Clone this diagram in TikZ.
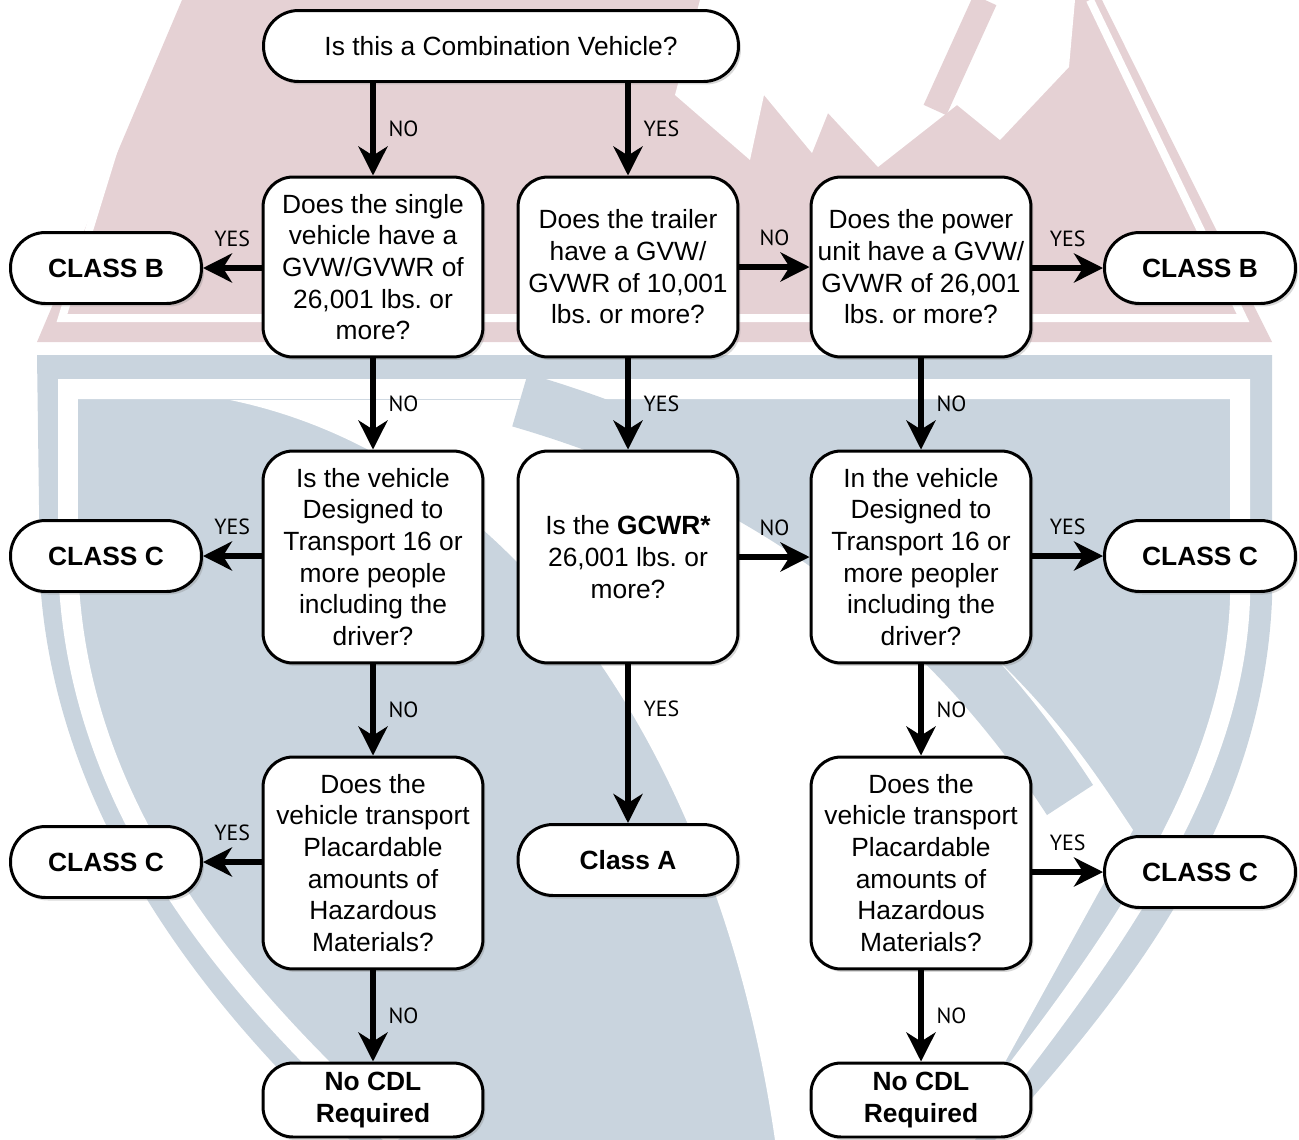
\documentclass[tikz,border=0pt]{standalone}
\usepackage{fontspec}
\setmainfont{Liberation Sans}
\newfontfamily\choicefont{PT Sans}
\usepackage{tikz}
\usetikzlibrary{arrows.meta, positioning, shadows}
\definecolor{mountain}{RGB}{229,209,212}
\definecolor{shield}{RGB}{201,212,222}
\frenchspacing
\tikzset{%
  base/.style = {rectangle, draw = black, line width = 1.7pt, fill = white, align = center, font = \fontsize{15}{18}\selectfont, inner sep = 2pt, drop shadow = {shadow xshift = 0.05cm, shadow yshift = -0.06cm, opacity = 0.3}},
  question/.style = {base, rounded corners = 0.6cm, minimum width = 4.4cm},
  result/.style = {base, rounded corners = 0.7cm, minimum width = 3.82cm, minimum height = 1.42cm, font = \fontsize{15}{18}\selectfont\bfseries},
  arrow/.style = {-{Stealth[length = 0.58cm, width = 0.58cm, inset = 0.18cm]}, line width = 3.2pt},
  choice/.style = {font = \choicefont\fontsize{12.5}{14}\selectfont, inner sep = 1pt}
}

\begin{document}
\begin{tikzpicture}[x = 0.02cm, y = -0.02cm]
  \useasboundingbox (0,0) rectangle (1299,1140);
  % watermark: mountains
  \fill[mountain] (182,0) -- (1102,0) -- (1272,342) -- (37,342) -- cycle;
  \draw[white, line width = 0.16cm] (160,0) -- (62,318) -- (1243,318) -- (1090,0);
  \fill[white] (700,0) -- (675,95) -- (750,160) -- (764,95) -- (812,153) -- (828,113) -- (878,167) -- (957,105) -- (1000,140) -- (1069,67) -- (1075,0) -- cycle;
  \draw[mountain, line width = 0.5cm] (985,0) -- (935,110);
  % watermark: shield
  \fill[shield] (37,355) -- (1272,355) -- (1272,600) .. controls (1262,830) and (1120,1000) .. (995,1140) -- (350,1140) .. controls (210,1010) and (55,820) .. (40,580) -- cycle;
  \draw[white, line width = 0.4cm] (398,1140) .. controls (225,985) and (72,800) .. (68,560) -- (68,389) -- (1240,389) -- (1240,600) .. controls (1233,790) and (1100,965) .. (962,1140);
  \fill[white] (230,400) .. controls (520,460) and (720,760) .. (775,1140) -- (962,1140) -- (1133,830) .. controls (1060,720) and (960,560) .. (560,400) -- cycle;
  \draw[shield, line width = 1.1cm] (520,400) .. controls (760,470) and (940,600) .. (1070,800);

  \node[result, minimum width = 9.5cm, font = \fontsize{15}{18}\selectfont] at (501,46) (start) {Is this a Combination Vehicle?};
  \node[question, minimum height = 3.6cm] at (373,267) (single) {Does the single\\vehicle have a\\GVW/GVWR of\\26,001 lbs. or\\more?};
  \node[question, minimum height = 3.6cm] at (628,267) (trailer) {Does the trailer\\have a GVW/\\GVWR of 10,001\\lbs. or more?};
  \node[question, minimum height = 3.6cm] at (921,267) (power) {Does the power\\unit have a GVW/\\GVWR of 26,001\\lbs. or more?};
  \node[result] at (106,268) (singleB) {CLASS B};
  \node[result] at (1200,268) (powerB) {CLASS B};
  \node[question, minimum height = 4.24cm] at (373,557) (singlePeople) {Is the vehicle\\Designed to\\Transport 16 or\\more people\\including the\\driver?};
  \node[question, minimum height = 4.24cm] at (628,557) (gcwr) {Is the \textbf{GCWR*}\\26,001 lbs. or\\more?};
  \node[question, minimum height = 4.24cm] at (921,557) (powerPeople) {In the vehicle\\Designed to\\Transport 16 or\\more peopler\\including the\\driver?};
  \node[result] at (106,556) (singlePeopleC) {CLASS C};
  \node[result] at (1200,556) (powerPeopleC) {CLASS C};
  \node[question, minimum height = 4.24cm] at (373,863) (singleHazmat) {Does the\\vehicle transport\\Placardable\\amounts of\\Hazardous\\Materials?};
  \node[result, minimum width = 4.4cm] at (628,860) (classA) {Class A};
  \node[question, minimum height = 4.24cm] at (921,863) (powerHazmat) {Does the\\vehicle transport\\Placardable\\amounts of\\Hazardous\\Materials?};
  \node[result] at (106,862) (singleHazmatC) {CLASS C};
  \node[result] at (1200,872) (powerHazmatC) {CLASS C};
  \node[result, minimum width = 4.4cm, minimum height = 1.48cm, rounded corners = 0.6cm] at (373,1100) (singleNoCDL) {No CDL\\Required};
  \node[result, minimum width = 4.4cm, minimum height = 1.48cm, rounded corners = 0.6cm] at (921,1100) (powerNoCDL) {No CDL\\Required};

  \draw[arrow] (start.south -| single) -- (single.north) node[choice, midway, right = 0.22cm] {NO};
  \draw[arrow] (start.south -| trailer) -- (trailer.north) node[choice, midway, right = 0.22cm] {YES};
  \draw[arrow] (single.west |- singleB) -- (singleB.east) node[choice, midway, above = 0.34cm] {YES};
  \draw[arrow] (trailer.east) -- (power.west) node[choice, midway, above = 0.34cm] {NO};
  \draw[arrow] (power.east |- powerB) -- (powerB.west) node[choice, midway, above = 0.34cm] {YES};
  \draw[arrow] (single.south) -- (singlePeople.north) node[choice, midway, right = 0.22cm] {NO};
  \draw[arrow] (trailer.south) -- (gcwr.north) node[choice, midway, right = 0.22cm] {YES};
  \draw[arrow] (power.south) -- (powerPeople.north) node[choice, midway, right = 0.22cm] {NO};
  \draw[arrow] (singlePeople.west |- singlePeopleC) -- (singlePeopleC.east) node[choice, midway, above = 0.34cm] {YES};
  \draw[arrow] (gcwr.east) -- (powerPeople.west) node[choice, midway, above = 0.34cm] {NO};
  \draw[arrow] (powerPeople.east |- powerPeopleC) -- (powerPeopleC.west) node[choice, midway, above = 0.34cm] {YES};
  \draw[arrow] (singlePeople.south) -- (singleHazmat.north) node[choice, midway, right = 0.22cm] {NO};
  \draw[arrow] (gcwr.south) -- (classA.north) node[choice, pos = 0.28, right = 0.22cm] {YES};
  \draw[arrow] (powerPeople.south) -- (powerHazmat.north) node[choice, midway, right = 0.22cm] {NO};
  \draw[arrow] (singleHazmat.west |- singleHazmatC) -- (singleHazmatC.east) node[choice, midway, above = 0.34cm] {YES};
  \draw[arrow] (powerHazmat.east |- powerHazmatC) -- (powerHazmatC.west) node[choice, midway, above = 0.34cm] {YES};
  \draw[arrow] (singleHazmat.south) -- (singleNoCDL.north) node[choice, midway, right = 0.22cm] {NO};
  \draw[arrow] (powerHazmat.south) -- (powerNoCDL.north) node[choice, midway, right = 0.22cm] {NO};
\end{tikzpicture}
\end{document}
